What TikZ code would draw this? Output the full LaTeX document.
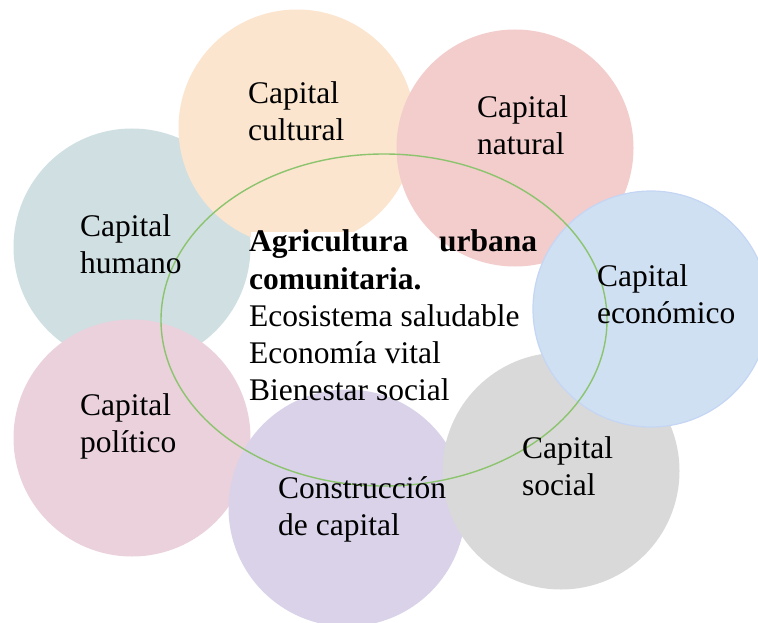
\documentclass[tikz,border=0pt]{standalone}
\usepackage{fontspec}
\setmainfont{Liberation Serif}
\usetikzlibrary{shapes.geometric}
\definecolor{cPeach}{RGB}{251,229,206}
\definecolor{cRed}{RGB}{243,204,204}
\definecolor{cTeal}{RGB}{208,223,226}
\definecolor{cBlue}{RGB}{207,224,243}
\definecolor{cBlueLine}{RGB}{196,214,244}
\definecolor{cPink}{RGB}{234,209,220}
\definecolor{cLav}{RGB}{217,210,233}
\definecolor{cGrey}{RGB}{217,217,217}
\definecolor{cGreen}{RGB}{140,196,110}
\tikzset{
  bubble/.style={circle, minimum size=237pt, inner sep=0pt, draw=none},
  lbl/.style={anchor=base west, align=left, inner sep=0pt,
    font=\fontsize{31.5}{37}\selectfont},
}
\begin{document}
\begin{tikzpicture}[x=1pt,y=-1pt]
\useasboundingbox (0,0) rectangle (758,623);
% circles (back to front)
\node[bubble, fill=cTeal] (hum) at (132,247) {};
\node[bubble, fill=cPeach] (cul) at (297,128) {};
\node[fill=white, inner sep=0pt, minimum width=287pt, minimum height=174pt, anchor=north west] (box) at (251,232) {};
\node[bubble, fill=cRed] (nat) at (515,148) {};
\node[bubble, fill=cPink] (pol) at (132,438) {};
\node[bubble, fill=cLav] (con) at (347,508) {};
\node[bubble, fill=cGrey] (soc) at (561,471) {};
\node[bubble, fill=cBlue, draw=cBlueLine, line width=1.2pt, minimum size=236pt] (eco) at (651,309) {};
% ellipse
\node[ellipse, draw=cGreen, line width=1.4pt, minimum width=446pt, minimum height=332pt, inner sep=0pt] (ell) at (384,320) {};
% labels (anchor = baseline of last line)
\node[lbl] (tcul) at (248,141) {Capital\\cultural};
\node[lbl] (tnat) at (477,155) {Capital\\natural};
\node[lbl] (thum) at (80,273) {Capital\\humano};
\node[lbl] (tpol) at (80,452) {Capital\\político};
\node[lbl] (tcon) at (278,535) {Construcción\\de capital};
\node[lbl] (teco) at (597,323) {Capital\\económico};
\node[lbl] (tsoc) at (522,495) {Capital\\social};
\node[lbl] (tcen) at (249,400) {\hbox to 288pt{\textbf{Agricultura}\hfill\textbf{urbana}}\\[1pt]\textbf{comunitaria.}\\Ecosistema saludable\\Economía vital\\Bienestar social};
\end{tikzpicture}
\end{document}
